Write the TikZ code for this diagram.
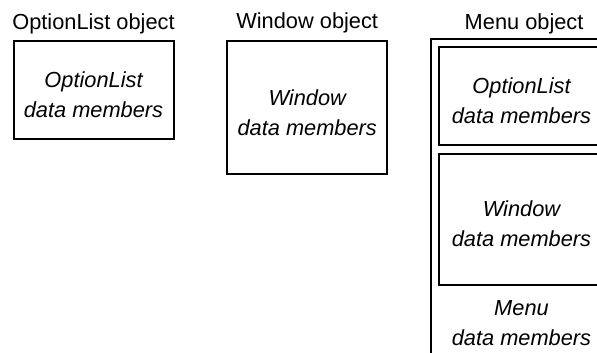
\documentclass[tikz,border=0pt]{standalone}
\usepackage{fontspec}
\setmainfont{Liberation Sans}
\usetikzlibrary{positioning}
\def\dx{21pt}
\def\dy{3.8pt}
\def\txt{\fontsize{10.9}{15}\selectfont}
\tikzstyle{membox}=[draw,rectangle,line width=1pt,align=center,font=\txt\itshape,minimum width=80pt]
\tikzstyle{title}=[inner sep=0pt,font=\txt]
\newcommand{\newMembers}[4]{\node[membox,#3](#1)[#4]{\rule{0pt}{13pt}#2};}
\newcommand{\newTitle}[3]{\node[title,#3](#1){#2};}

\begin{document}
\begin{tikzpicture}[inner sep=0pt]
  \useasboundingbox (0,0) rectangle (298.5pt,-176pt);
  \clip (0,0) rectangle (298.5pt,-176pt);
  % the two plain objects
  \newMembers{opt}{OptionList\\data members}{anchor=north west,minimum height=49pt}{at={(6.25pt,-20pt)}}
  \newMembers{win}{Window\\data members}{right=25.85pt of opt.north east,anchor=north west,minimum height=66.5pt}{}
  % the menu object holds both
  \node[membox,right=\dx of win.north east,anchor=north west,yshift=1pt,
    minimum width=89.3pt,minimum height=162pt](menu){};
  \newMembers{opt2}{OptionList\\data members}{below right=\dy and \dy of menu.north west,minimum width=82.7pt,minimum height=49pt}{}
  \newMembers{win2}{Window\\data members}{below=3.5pt of opt2,minimum width=82.7pt,minimum height=65.5pt}{}
  \node[align=center,font=\txt\itshape,below=7pt of win2](menutxt){Menu\\data members};
  % titles
  \newTitle{optT}{OptionList object}{above=2.7pt of opt}
  \newTitle{winT}{Window object}{above=3.2pt of win}
  \newTitle{menuT}{Menu object}{above=2pt of menu,xshift=1.8pt}
\end{tikzpicture}
\end{document}
